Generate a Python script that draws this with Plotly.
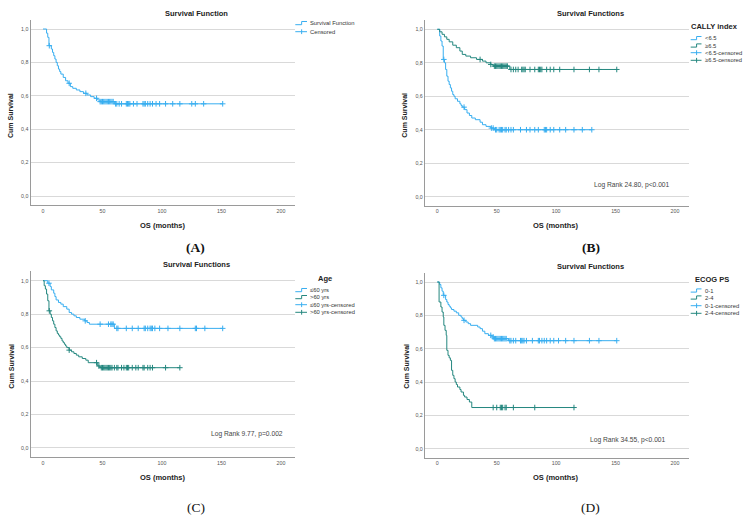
import plotly.graph_objects as go

W, H = 748, 517
BLUE = '#38aef0'
TEAL = '#24877f'
FONT = 'Liberation Sans, Arial, sans-serif'

# ---------------- data (months, cumulative survival) ----------------
# Panel A: overall
t_a = [0, 3, 4, 5, 7, 8, 9, 10, 11, 12, 13, 14, 15, 17, 19, 21, 23, 25, 28, 31, 34, 37, 40, 43, 46, 48, 60]
s_a = [1.0, 0.975, 0.95, 0.90, 0.88, 0.86, 0.84, 0.82, 0.80, 0.78, 0.76, 0.745, 0.73, 0.71, 0.69, 0.675,
       0.655, 0.645, 0.635, 0.625, 0.615, 0.605, 0.595, 0.585, 0.575, 0.565, 0.552]
c_a = [5.3, 22, 36, 45, 48, 49, 50, 51, 52, 53, 54, 55, 56, 57, 58, 59, 61, 62, 64, 66, 70, 71, 72, 73, 76,
       79, 84, 85, 86, 88, 90, 92, 95, 98, 103, 109, 115, 125, 128, 135, 151]

# Panel B: CALLY index
t_b_low = [0, 2, 3, 4, 5, 6, 7, 8, 9, 10, 11, 12, 13, 14, 15, 17, 19, 20, 21, 23, 25, 27, 29, 32, 36, 38, 41, 45, 48]
s_b_low = [1.0, 0.96, 0.93, 0.90, 0.82, 0.80, 0.76, 0.72, 0.69, 0.67, 0.65, 0.63, 0.61, 0.60, 0.585, 0.57,
           0.555, 0.545, 0.535, 0.52, 0.50, 0.485, 0.47, 0.46, 0.445, 0.43, 0.42, 0.41, 0.40]
c_b_low = [5.5, 22.5, 45.5, 47, 49, 50, 52, 53, 54, 55, 57, 58, 60, 62, 64, 70, 75, 78, 82, 85, 90, 91, 92,
           95, 98, 103, 108, 115, 122, 130]
t_b_high = [0, 2, 4, 6, 8, 10, 13, 16, 19, 21, 24, 28, 33, 38, 41, 45, 47, 61]
s_b_high = [1.0, 0.985, 0.97, 0.955, 0.94, 0.925, 0.905, 0.89, 0.87, 0.85, 0.84, 0.83, 0.82, 0.81, 0.80,
            0.79, 0.78, 0.76]
c_b_high = [36, 45, 48, 49, 50, 51, 52, 53, 54, 55, 56, 57, 58, 59, 62, 64, 66, 68, 71, 72, 73, 74, 78, 82,
            85, 86, 87, 88, 92, 95, 98, 103, 115, 128, 136, 151]

# Panel C: Age
t_c_young = [0, 4, 6, 7, 9, 10, 11, 13, 15, 17, 20, 22, 24, 26, 28, 31, 35, 37, 39, 60]
s_c_young = [1.0, 0.985, 0.965, 0.945, 0.925, 0.905, 0.885, 0.87, 0.86, 0.845, 0.83, 0.81, 0.80, 0.79,
             0.78, 0.77, 0.76, 0.75, 0.74, 0.715]
c_c_young = [5, 35.5, 48, 55, 57, 58, 59, 62, 63, 70, 75, 80, 85, 86, 88, 90, 91, 92, 94, 98, 105, 115,
             128, 129, 136, 151]
t_c_old = [0, 1, 2, 3, 4, 5, 6, 7, 8, 9, 10, 11, 12, 13, 14, 15, 16, 17, 18, 19, 20, 22, 24, 26, 28, 30,
           33, 36, 38, 46, 48]
s_c_old = [1.0, 0.97, 0.95, 0.92, 0.88, 0.82, 0.80, 0.78, 0.76, 0.74, 0.72, 0.70, 0.685, 0.675, 0.665,
           0.655, 0.64, 0.63, 0.62, 0.61, 0.60, 0.585, 0.575, 0.565, 0.555, 0.545, 0.535, 0.525, 0.51,
           0.49, 0.48]
c_c_old = [5.3, 22, 45, 47, 49, 50, 51, 52, 53, 54, 55, 56, 57, 58, 60, 62, 63, 66, 68, 70, 71, 72, 75,
           78, 80, 84, 85, 88, 90, 92, 103, 115]

# Panel D: ECOG PS
t_d_01 = [0, 2, 3, 4, 5, 7, 8, 9, 10, 11, 12, 14, 16, 18, 20, 21, 22, 24, 26, 28, 34, 36, 38, 40, 43,
          46, 48, 60]
s_d_01 = [1.0, 0.985, 0.965, 0.945, 0.92, 0.895, 0.88, 0.865, 0.855, 0.845, 0.835, 0.825, 0.815, 0.80,
          0.79, 0.78, 0.77, 0.76, 0.75, 0.74, 0.73, 0.72, 0.705, 0.69, 0.68, 0.67, 0.66, 0.648]
c_d_01 = [5.5, 22.5, 45, 47, 48, 49, 50, 51, 52, 53, 54, 55, 56, 57, 58, 61, 62, 64, 66, 70, 71, 72, 73,
          75, 80, 85, 86, 88, 90, 92, 95, 98, 102, 108, 115, 128, 136, 151]
t_d_24 = [0, 1.5, 3, 4, 5, 5.5, 6.5, 7.5, 8, 9, 10, 11, 12, 13, 14, 15, 16, 17, 19, 20, 22, 23, 25, 27, 29]
s_d_24 = [1.0, 0.88, 0.85, 0.82, 0.79, 0.74, 0.71, 0.68, 0.59, 0.56, 0.545, 0.53, 0.47, 0.44, 0.42, 0.40,
          0.385, 0.37, 0.355, 0.34, 0.32, 0.31, 0.295, 0.28, 0.247]
c_d_24 = [47, 50, 53, 54, 55, 57, 58, 64, 82, 115]

x_ticks = [0, 50, 100, 150, 200]
y_ticks = [0.0, 0.2, 0.4, 0.6, 0.8, 1.0]
y_ticktext = ['0,0', '0,2', '0,4', '0,6', '0,8', '1,0']

# ---------------- layout helpers ----------------
XMIN, XMAX = -10.5, 212
YMIN, YMAX = -0.055, 1.055


def px(x):
    return x / W


def py(y):
    return 1 - y / H


def step_value(t, s, x):
    v = s[0]
    for ti, si in zip(t, s):
        if ti <= x:
            v = si
        else:
            break
    return v


panels = [
    dict(ax='', x0=43, x200=281, y1=29, y0=196,
         curves=[(t_a, s_a, c_a, BLUE)]),
    dict(ax='2', x0=437.3, x200=675, y1=29.3, y0=196.7,
         curves=[(t_b_low, s_b_low, c_b_low, BLUE), (t_b_high, s_b_high, c_b_high, TEAL)]),
    dict(ax='3', x0=43, x200=281, y1=280.7, y0=448,
         curves=[(t_c_young, s_c_young, c_c_young, BLUE), (t_c_old, s_c_old, c_c_old, TEAL)]),
    dict(ax='4', x0=437.3, x200=675, y1=282, y0=448.7,
         curves=[(t_d_01, s_d_01, c_d_01, BLUE), (t_d_24, s_d_24, c_d_24, TEAL)]),
]

fig = go.Figure()
layout = dict(width=W, height=H, margin=dict(l=0, r=0, t=0, b=0),
              paper_bgcolor='white', plot_bgcolor='white', showlegend=False,
              font=dict(family=FONT, color='#333'))

for p in panels:
    ppm = (p['x200'] - p['x0']) / 200.0
    pps = (p['y0'] - p['y1'])
    left = p['x0'] + XMIN * ppm
    right = p['x0'] + XMAX * ppm
    top = p['y1'] - (YMAX - 1) * pps
    bottom = p['y0'] - YMIN * pps
    xa = 'x' + p['ax']
    ya = 'y' + p['ax']
    layout['xaxis' + p['ax']] = dict(
        domain=[px(left), px(right)], range=[XMIN, XMAX], anchor=ya,
        tickvals=x_ticks, showgrid=False, zeroline=False, showline=True,
        linecolor='#9a9a9a', linewidth=1, ticks='', tickfont=dict(size=5.3, color='#555'),
        automargin=False, fixedrange=True)
    layout['yaxis' + p['ax']] = dict(
        domain=[py(bottom), py(top)], range=[YMIN, YMAX], anchor=xa,
        tickvals=y_ticks, ticktext=y_ticktext, showgrid=True, gridcolor='#d9d9d9', gridwidth=1,
        zeroline=False, showline=True, linecolor='#9a9a9a', linewidth=1, ticks='',
        tickfont=dict(size=5.3, color='#555'), automargin=False, fixedrange=True)
    for t, s, c, col in p['curves']:
        end = max(c)
        fig.add_trace(go.Scatter(x=t + [end], y=s + [s[-1]], mode='lines', line_shape='hv',
                                 line=dict(color=col, width=1), xaxis=xa, yaxis=ya,
                                 hoverinfo='skip'))
        fig.add_trace(go.Scatter(x=c, y=[step_value(t, s, v) for v in c], mode='markers',
                                 marker=dict(symbol='cross-thin', size=4,
                                             line=dict(color=col, width=1)),
                                 xaxis=xa, yaxis=ya, hoverinfo='skip'))

annotations = []
shapes = []


def text(x, y, s, size, bold=False, anchor='center', color='#222', family=FONT, angle=0):
    annotations.append(dict(
        x=px(x), y=py(y), xref='paper', yref='paper', showarrow=False,
        text='<b>%s</b>' % s if bold else s, xanchor=anchor, yanchor='middle',
        font=dict(size=size, color=color, family=family), textangle=angle))


# titles
text(196, 13.3, 'Survival Function', 7.5, bold=True)
text(590.7, 13.3, 'Survival Functions', 7.5, bold=True)
text(196, 264.7, 'Survival Functions', 7.5, bold=True)
text(590, 266, 'Survival Functions', 7.5, bold=True)
# axis titles
for xc, yc in [(162, 225), (555.7, 225), (162, 477.3), (555.7, 477.3)]:
    text(xc, yc, 'OS (months)', 7.5, bold=True)
for xc, yc in [(10.7, 115.3), (404.7, 115), (10.7, 366), (405.7, 366)]:
    text(xc, yc, 'Cum Survival', 7, bold=True, angle=-90)
# log rank
text(632.3, 185, 'Log Rank 24.80, p&lt;0.001', 6.7, color='#444')
text(246.7, 434, 'Log Rank 9.77, p=0.002', 6.7, color='#444')
text(628, 439.7, 'Log Rank 34.55, p&lt;0.001', 6.7, color='#444')
# captions
SERIF = 'Liberation Serif, Times New Roman, serif'
text(195, 247, '(A)', 13.5, bold=True, color='#111', family=SERIF)
text(591, 247, '(B)', 13.5, bold=True, color='#111', family=SERIF)
text(196, 508, '(C)', 13.5, color='#111', family=SERIF)
text(590, 508, '(D)', 13.5, color='#111', family=SERIF)


def legend_line(x0, x1, y, col):
    xm = (x0 + x1) / 2 + 0.5
    path = 'M %f,%f L %f,%f L %f,%f L %f,%f' % (px(x0), py(y + 1.4), px(xm), py(y + 1.4),
                                                px(xm), py(y - 1.8), px(x1), py(y - 1.8))
    shapes.append(dict(type='path', path=path, xref='paper', yref='paper',
                       line=dict(color=col, width=1)))


def legend_cross(x0, x1, y, col):
    xm = (x0 + x1) / 2 + 0.5
    shapes.append(dict(type='line', x0=px(x0), x1=px(x1), y0=py(y), y1=py(y),
                       xref='paper', yref='paper', line=dict(color=col, width=1)))
    shapes.append(dict(type='line', x0=px(xm), x1=px(xm), y0=py(y - 2.4), y1=py(y + 2.4),
                       xref='paper', yref='paper', line=dict(color=col, width=1)))


def legend(x0, x1, title, tx, ty, ys, labels):
    if title:
        text(tx, ty, title, 7.5, bold=True)
    cols = [BLUE, TEAL, BLUE, TEAL] if len(labels) == 4 else [BLUE, BLUE]
    kinds = ['line', 'line', 'cross', 'cross'] if len(labels) == 4 else ['line', 'cross']
    for y, lab, col, k in zip(ys, labels, cols, kinds):
        if k == 'line':
            legend_line(x0, x1, y, col)
        else:
            legend_cross(x0, x1, y, col)
        text(x1 + 1.3, y, lab, 5.8, anchor='left', color='#333')


legend(295.3, 307, None, 0, 0, [23.3, 31.7], ['Survival Function', 'Censored'])
legend(690.7, 701.5, 'CALLY index', 714.7, 27, [38.3, 45.7, 52.7, 60.3],
       ['&lt;6.5', '≥6.5', '&lt;6.5-censored', '≥6.5-censored'])
legend(295.3, 307, 'Age', 325, 278.7, [290.3, 297.3, 304.7, 312.3],
       ['≤60 yrs', '&gt;60 yrs', '≤60 yrs-censored', '&gt;60 yrs-censored'])
legend(690.7, 701.5, 'ECOG PS', 712.3, 279.3, [290.7, 297.7, 305.7, 313.3],
       ['0-1', '2-4', '0-1-censored', '2-4-censored'])

layout['annotations'] = annotations
layout['shapes'] = shapes
fig.update_layout(**layout)
fig.write_html('out.html')
